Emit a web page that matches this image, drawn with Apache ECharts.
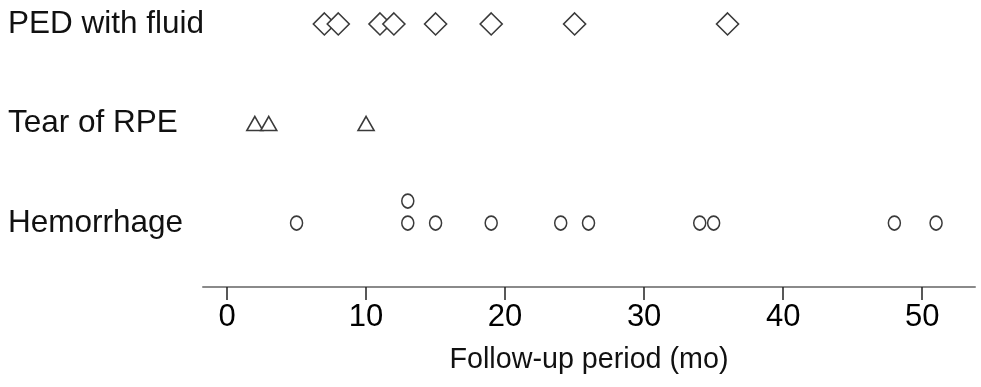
<!DOCTYPE html>
<html>
<head>
<meta charset="utf-8">
<script src="https://cdn.jsdelivr.net/npm/echarts@6/dist/echarts.min.js"></script>
<style>html,body{margin:0;padding:0;background:#fff;}#c{width:981px;height:387px;}</style>
</head>
<body>
<div id="c"></div>
<script>
const categories = ['Hemorrhage', 'Tear of RPE', 'PED with fluid'];
const hemorrhageValues = [5, 13, 13, 15, 19, 24, 26, 34, 35, 48, 51];
const tearValues = [2, 3, 10];
const pedValues = [7, 8, 11, 12, 15, 19, 25, 36];
const xTicks = [0, 10, 20, 30, 40, 50];
const xTitle = 'Follow-up period (mo)';

const FONT = '"Liberation Sans", Arial, Helvetica, sans-serif';
const STROKE = '#3a3a3a';

function buildData(values, rowIndex) {
  const seen = {};
  return values.map(v => {
    const n = seen[v] || 0;
    seen[v] = n + 1;
    const item = { value: [v, rowIndex] };
    if (n > 0) item.symbolOffset = [0, -22 * n];
    return item;
  });
}

function markerSeries(name, values, rowIndex, symbol, size) {
  return {
    name: name,
    type: 'scatter',
    symbol: symbol,
    symbolSize: size,
    data: buildData(values, rowIndex),
    itemStyle: { color: '#ffffff', borderColor: STROKE, borderWidth: 1.6, opacity: 1 },
    emphasis: { disabled: true },
    animation: false
  };
}

const chart = echarts.init(document.getElementById('c'), null, { renderer: 'canvas' });
chart.setOption({
  backgroundColor: '#ffffff',
  animation: false,
  grid: { left: 203, right: 6, top: 0, bottom: 100, containLabel: false },
  xAxis: {
    type: 'value',
    min: -1.73,
    max: 53.8,
    splitLine: { show: false },
    axisLine: { show: true, onZero: false, lineStyle: { color: '#8a8a8a', width: 2 } },
    axisTick: { show: true, customValues: xTicks, length: 13, lineStyle: { color: '#222', width: 1.5 } },
    axisLabel: { customValues: xTicks, margin: 15, fontSize: 31, color: '#000', fontFamily: FONT },
    name: xTitle,
    nameLocation: 'middle',
    nameGap: 59,
    nameTextStyle: { fontSize: 28.7, color: '#111', fontFamily: FONT }
  },
  yAxis: {
    type: 'value',
    min: -0.643,
    max: 2.241,
    splitLine: { show: false },
    axisLine: { show: false },
    axisTick: { show: false },
    axisLabel: {
      customValues: [0, 1, 2],
      formatter: v => categories[Math.round(v)],
      align: 'left',
      margin: 195,
      fontSize: 31.5,
      color: '#111',
      fontFamily: FONT
    }
  },
  series: [
    markerSeries(categories[0], hemorrhageValues, 0, 'circle', [12, 14]),
    markerSeries(categories[1], tearValues, 1, 'triangle', [16, 14]),
    markerSeries(categories[2], pedValues, 2, 'diamond', [22, 22])
  ]
});
</script>
</body>
</html>
